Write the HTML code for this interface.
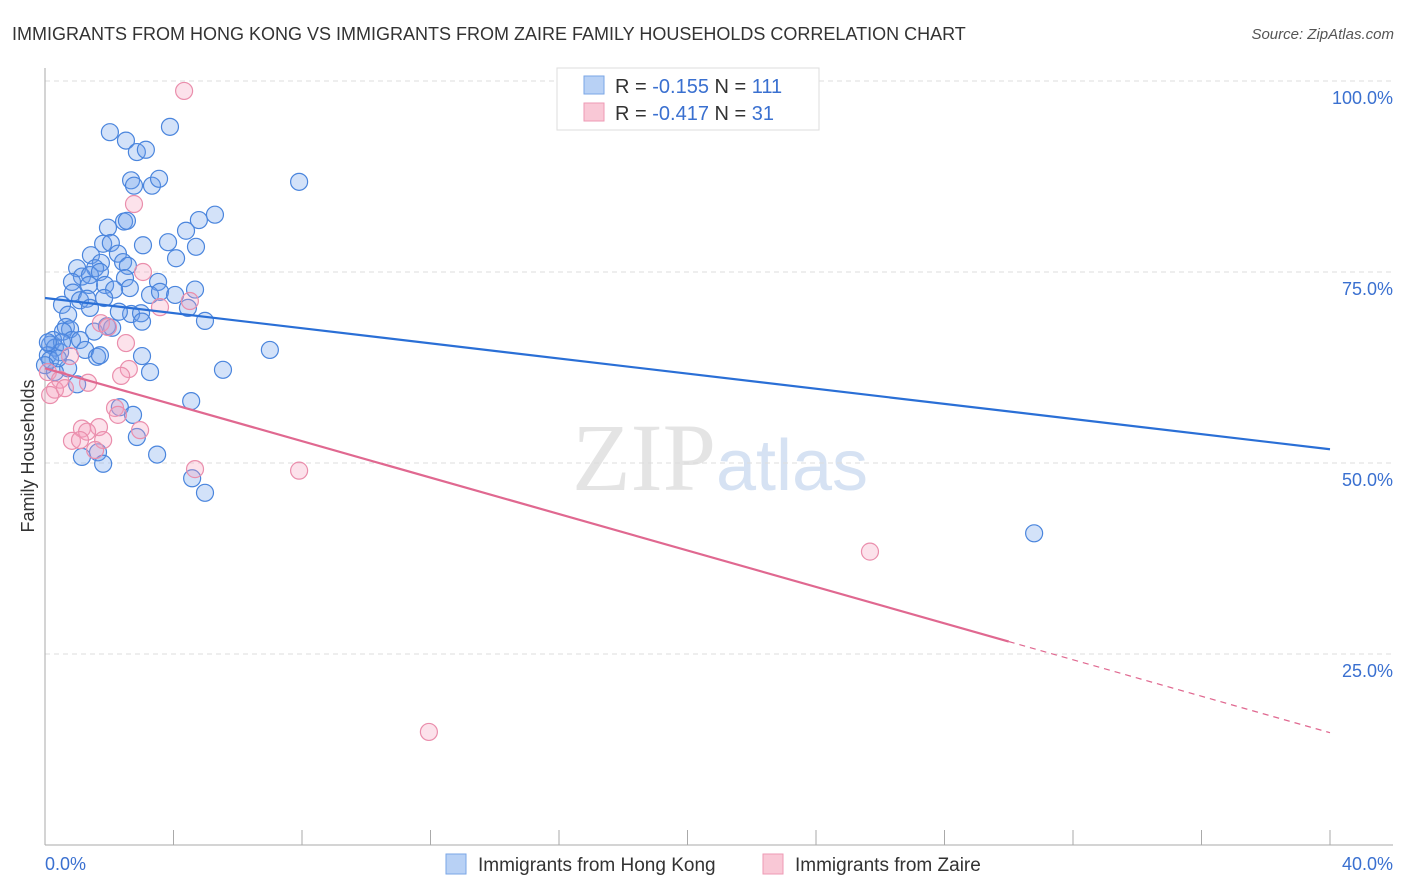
<!DOCTYPE html>
<html><head><meta charset="utf-8"><style>
body{margin:0;background:#fff;font-family:"Liberation Sans",sans-serif}
</style></head><body>
<svg id="c" width="1406" height="892" xmlns="http://www.w3.org/2000/svg" style="display:block">
<text x="12" y="40" font-size="18" fill="#333">IMMIGRANTS FROM HONG KONG VS IMMIGRANTS FROM ZAIRE FAMILY HOUSEHOLDS CORRELATION CHART</text>
<text x="1394" y="39" font-size="15" fill="#555" text-anchor="end" font-style="italic">Source: ZipAtlas.com</text>
<text x="720" y="490" font-size="96" text-anchor="middle" fill="#e4e4e4" font-family="Liberation Serif,serif">ZIP<tspan fill="#d6e2f3" font-family="Liberation Sans,sans-serif" font-size="72">atlas</tspan></text>
<g id="grid"></g><g id="axes"></g><g id="pts"></g><g id="trend"></g>
<text transform="translate(34,456) rotate(-90)" font-size="18" fill="#333" text-anchor="middle">Family Households</text>
<g>
<rect x="557" y="68" width="262" height="62" fill="#fff" stroke="#ddd"/>
<rect x="584" y="76" width="20" height="18" fill="#b8d1f5" stroke="#7aa6e6"/>
<rect x="584" y="103" width="20" height="18" fill="#f9c8d6" stroke="#ee9ab4"/>
<text x="615" y="93" font-size="20" fill="#333">R = <tspan fill="#3a70d0">-0.155</tspan>   N = <tspan fill="#3a70d0">111</tspan></text>
<text x="615" y="120" font-size="20" fill="#333">R = <tspan fill="#3a70d0">-0.417</tspan>   N = <tspan fill="#3a70d0"> 31</tspan></text>
</g>
<g>
<rect x="446" y="854" width="20" height="20" fill="#b8d1f5" stroke="#7aa6e6"/>
<text x="478" y="871" font-size="19" fill="#333">Immigrants from Hong Kong</text>
<rect x="763" y="854" width="20" height="20" fill="#f9c8d6" stroke="#ee9ab4"/>
<text x="795" y="871" font-size="19" fill="#333">Immigrants from Zaire</text>
</g>
</svg>
<script>
const blueX=[2.02,2.52,2.86,3.14,3.89,2.68,2.77,3.33,3.55,7.91,5.29,4.79,4.39,4.70,3.83,3.05,2.46,2.55,1.96,1.81,2.05,4.08,2.27,1.43,2.43,2.58,1.74,1.56,1.00,1.15,1.40,1.71,0.84,1.37,1.87,2.49,3.52,2.64,2.15,1.84,0.87,1.09,1.31,0.53,1.40,3.27,3.58,4.05,4.67,4.45,4.98,2.68,2.99,3.02,2.30,0.72,0.65,0.78,0.56,1.53,1.93,2.09,0.84,1.09,0.25,0.16,0.31,0.09,0.47,1.25,1.62,3.02,7.00,5.54,3.27,0.72,0.31,1.71,1.00,2.33,2.74,4.55,2.86,1.65,1.15,1.81,3.49,4.58,4.98,30.79,0.16,0.40,0.00,0.53,0.09];
const blueY=[93.3,92.2,90.7,91.0,94.0,87.0,86.3,86.3,87.2,86.8,82.5,81.8,80.4,78.3,78.9,78.5,81.6,81.7,80.8,78.7,78.8,76.8,77.4,77.2,76.3,75.8,76.2,75.5,75.5,74.4,74.6,75.0,73.7,73.3,73.3,74.2,73.7,72.9,72.7,71.6,72.3,71.3,71.5,70.7,70.3,72.0,72.4,72.0,72.7,70.3,68.6,69.5,69.6,68.5,69.8,69.4,67.8,67.5,67.2,67.2,67.9,67.7,66.1,66.1,66.1,65.5,65.1,64.1,64.5,64.8,63.9,64.0,64.8,62.2,61.9,62.4,61.9,64.1,60.3,57.3,56.3,58.1,53.4,51.4,50.8,49.9,51.1,48.0,46.1,40.8,63.5,63.7,62.8,65.8,65.8];
const pinkX=[4.33,2.77,3.05,4.51,3.58,1.74,1.96,2.52,0.78,2.61,2.37,0.09,0.47,1.34,0.31,0.16,0.62,2.18,2.27,1.68,1.15,1.31,2.96,0.84,1.09,1.81,1.56,4.67,7.91,25.68,11.95];
const pinkY=[98.7,83.9,75.0,71.2,70.4,68.3,67.8,65.7,64.0,62.3,61.4,61.9,60.9,60.5,59.6,58.9,59.8,57.2,56.3,54.7,54.5,54.1,54.3,52.9,53.0,53.0,51.7,49.2,49.0,38.4,14.8];
const blueTrend=[71.6,51.8];
const pinkTrend=[62.4,14.7];
const pinkSolidEnd=30.0;
const yTicks=[25,50,75,100];
const yTickLabels=["25.0%","50.0%","75.0%","100.0%"];
const xTicks=[0,4,8,12,16,20,24,28,32,36,40];
const NS="http://www.w3.org/2000/svg";
const sx=v=>45+v/40*1285, sy=v=>845-v/100*764;
function mk(t,a,p){const e=document.createElementNS(NS,t);for(const k in a)e.setAttribute(k,a[k]);document.getElementById(p).appendChild(e);return e;}
yTicks.forEach((t,i)=>{
 const g=mk('line',{x1:45,x2:1393,y1:sy(t),y2:sy(t),stroke:'#ddd','stroke-dasharray':'5,4'},'grid');
 
 
 const l=mk('text',{x:1393,y:sy(t)+23,'font-size':18,fill:'#3a70d0','text-anchor':'end'},'axes');
 l.textContent=yTickLabels[i];
 
 
});
const ax=mk('line',{x1:45,x2:45,y1:68,y2:845,stroke:'#aaa'},'axes');


const bx=mk('line',{x1:45,x2:1393,y1:845,y2:845,stroke:'#aaa'},'axes');


xTicks.forEach(t=>{
 const k=mk('line',{x1:sx(t),x2:sx(t),y1:830,y2:845,stroke:'#aaa'},'axes');
 
 
});
const xl0=mk('text',{x:45,y:870,'font-size':18,fill:'#3a70d0'},'axes');xl0.textContent=xTicks[0].toFixed(1)+'%';


const xl1=mk('text',{x:1393,y:870,'font-size':18,fill:'#3a70d0','text-anchor':'end'},'axes');xl1.textContent=xTicks[xTicks.length-1].toFixed(1)+'%';


blueX.forEach((x,i)=>{
 const c=mk('circle',{cx:sx(x),cy:sy(blueY[i]),r:8.5,fill:'rgba(110,160,235,0.3)',stroke:'#4a85dd','stroke-width':1.2},'pts');
 
 
});
pinkX.forEach((x,i)=>{
 const c=mk('circle',{cx:sx(x),cy:sy(pinkY[i]),r:8.5,fill:'rgba(245,160,190,0.3)',stroke:'#ea8eac','stroke-width':1.2},'pts');
 
 
});
const bl=mk('line',{x1:sx(0),y1:sy(blueTrend[0]),x2:sx(40),y2:sy(blueTrend[1]),stroke:'#2a6fd6','stroke-width':2.2},'trend');


const pm=pinkTrend[0]+(pinkTrend[1]-pinkTrend[0])*pinkSolidEnd/40;
const pl=mk('line',{x1:sx(0),y1:sy(pinkTrend[0]),x2:sx(pinkSolidEnd),y2:sy(pm),stroke:'#e06890','stroke-width':2.2},'trend');


const pd=mk('line',{x1:sx(pinkSolidEnd),y1:sy(pm),x2:sx(40),y2:sy(pinkTrend[1]),stroke:'#e06890','stroke-width':1.2,'stroke-dasharray':'6,5'},'trend');


</script>
</body></html>
